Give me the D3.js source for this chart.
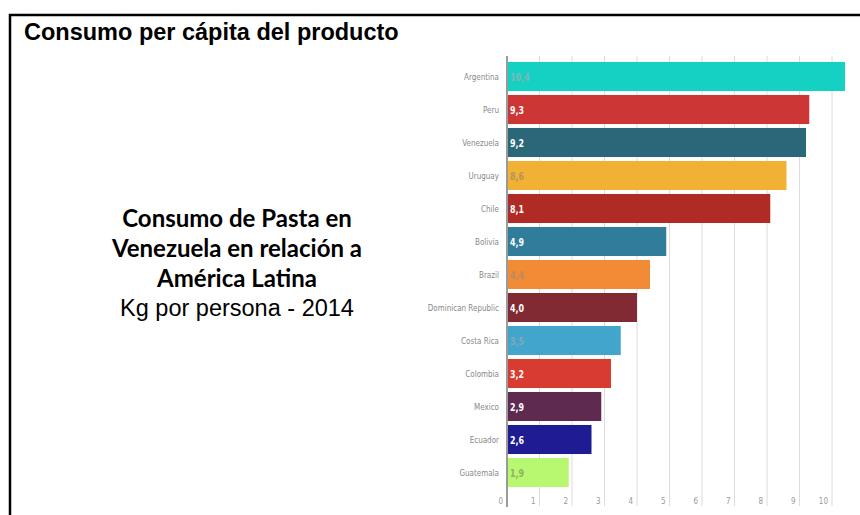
<!DOCTYPE html>
<html>
<head>
<meta charset="utf-8">
<script src="https://cdn.jsdelivr.net/npm/d3@7"></script>
<style>
  html, body { margin: 0; padding: 0; background: #fff; }
  svg { display: block; }
</style>
</head>
<body>
<svg id="chart" width="860" height="515"></svg>
<script>
// Consumo de pasta per cápita, kg por persona (2014)
const countries = ["Argentina", "Peru", "Venezuela", "Uruguay", "Chile", "Bolivia", "Brazil",
  "Dominican Republic", "Costa Rica", "Colombia", "Mexico", "Ecuador", "Guatemala"];
const values = [10.4, 9.3, 9.2, 8.6, 8.1, 4.9, 4.4, 4.0, 3.5, 3.2, 2.9, 2.6, 1.9];
const barColors = ["#14d1c3", "#cc3634", "#2a6879", "#f1b134", "#b02a26", "#2f7d9b", "#f28b35",
  "#822a33", "#42a5cb", "#d83b30", "#5f2a4f", "#1f1b92", "#b7f870"];
const labelColors = ["#7fb8b2", "#ffffff", "#ffffff", "#b8945a", "#ffffff", "#ffffff", "#b98a62",
  "#ffffff", "#7fa9bd", "#ffffff", "#ffffff", "#ffffff", "#8fb063"];
const xTicks = [0, 1, 2, 3, 4, 5, 6, 7, 8, 9, 10];

const svg = d3.select("#chart");

// Frame and heading
svg.append("rect")
  .attr("x", 10).attr("y", 15)
  .attr("width", 870).attr("height", 600)
  .attr("fill", "none").attr("stroke", "#000").attr("stroke-width", 2.5);

svg.append("text")
  .attr("x", 24).attr("y", 40)
  .attr("font-family", "Liberation Sans, Arial, sans-serif")
  .attr("font-weight", "bold").attr("font-size", 23.5)
  .attr("fill", "#000")
  .text("Consumo per cápita del producto");

// Side caption
const caption = svg.append("text")
  .attr("text-anchor", "middle")
  .attr("fill", "#000");
const capLines = [
  { t: "Consumo de Pasta en", y: 227, bold: true },
  { t: "Venezuela en relación a", y: 257, bold: true },
  { t: "América Latina", y: 287, bold: true },
  { t: "Kg por persona - 2014", y: 316, bold: false }
];
capLines.forEach(l => {
  caption.append("tspan")
    .attr("x", 237).attr("y", l.y)
    .attr("font-family", l.bold ? "Lato, 'Open Sans', sans-serif" : "Liberation Sans, Arial, sans-serif")
    .attr("font-weight", l.bold ? "bold" : "normal")
    .attr("font-size", l.bold ? 24 : 23.5)
    .text(l.t);
});

// Scales
const x = d3.scaleLinear().domain([0, 10]).range([507, 832]);
const y = d3.scaleBand().domain(countries).range([60, 489])
  .paddingInner(0.12).paddingOuter(0.06);

const labelFont = "'DejaVu Sans Condensed', 'Roboto', sans-serif";
const squeeze = 0.84; // horizontal squeeze for the narrow label face

// Vertical gridlines
svg.append("g")
  .selectAll("line")
  .data(xTicks.slice(1))
  .join("line")
  .attr("x1", d => x(d)).attr("x2", d => x(d))
  .attr("y1", 56).attr("y2", 506)
  .attr("stroke", "#dcdcdc").attr("stroke-width", 1);

// X axis tick labels
svg.append("g")
  .selectAll("text")
  .data(xTicks)
  .join("text")
  .attr("transform", d => `translate(${x(d) - 4},504) scale(${squeeze},1)`)
  .attr("text-anchor", "end")
  .attr("font-family", labelFont)
  .attr("font-size", 9.5)
  .attr("fill", "#999")
  .text(d => d);

// Bars
svg.append("g")
  .selectAll("rect")
  .data(countries)
  .join("rect")
  .attr("x", x(0))
  .attr("y", d => y(d))
  .attr("width", (d, i) => x(values[i]) - x(0))
  .attr("height", y.bandwidth())
  .attr("fill", (d, i) => barColors[i]);

// Value labels inside bars
svg.append("g")
  .selectAll("text")
  .data(countries)
  .join("text")
  .attr("transform", d => `translate(${x(0) + 3},${y(d) + y.bandwidth() / 2 + 4}) scale(${squeeze},1)`)
  .attr("font-family", labelFont)
  .attr("font-weight", "bold")
  .attr("font-size", 10.5)
  .attr("fill", (d, i) => labelColors[i])
  .text((d, i) => values[i].toFixed(1).replace(".", ","));

// Category labels
svg.append("g")
  .selectAll("text")
  .data(countries)
  .join("text")
  .attr("transform", d => `translate(499,${y(d) + y.bandwidth() / 2 + 3.5}) scale(${squeeze},1)`)
  .attr("text-anchor", "end")
  .attr("font-family", labelFont)
  .attr("font-size", 9.5)
  .attr("fill", "#888")
  .text(d => d);

// Baseline
svg.append("line")
  .attr("x1", x(0)).attr("x2", x(0))
  .attr("y1", 56).attr("y2", 507)
  .attr("stroke", "#9a9a9a").attr("stroke-width", 2);
</script>
</body>
</html>
